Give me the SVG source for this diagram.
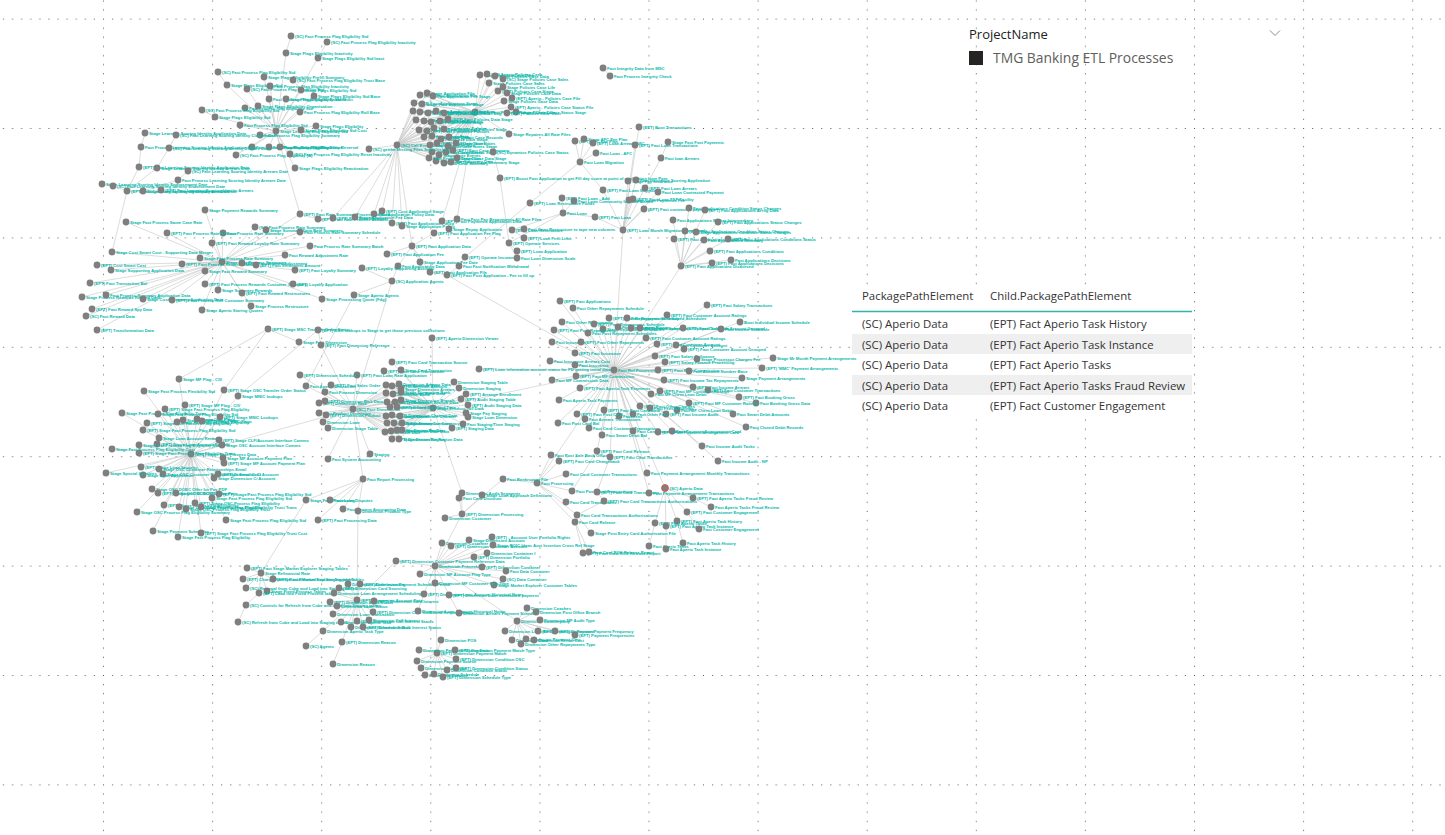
<svg xmlns="http://www.w3.org/2000/svg" width="1445" height="835" viewBox="0 0 1445 835">
<style>
.e path{fill:none;stroke:#cdcdcd;stroke-width:.7}
.n circle{fill:#7f7f7f}
.n text{font-family:"Liberation Sans",Arial,sans-serif;font-size:4.2px;font-weight:bold;fill:#01b8aa}
.ui{font-family:"Open Sans","Noto Sans",sans-serif}
.th{font-size:11.4px;fill:#333}
.td{font-size:11.4px;fill:#333}
</style>
<defs>
<pattern id="grid" x="-6.1" y="18.6" width="109.1" height="109.4" patternUnits="userSpaceOnUse">
<path d="M0 0.5H109.1" stroke="#555" stroke-width="1" stroke-dasharray="1 8.0917"/>
<path d="M0.5 0V109.4" stroke="#555" stroke-width="1" stroke-dasharray="1 8.1167"/>
</pattern>
</defs>
<rect width="1445" height="835" fill="#fff"/>
<rect width="1445" height="835" fill="url(#grid)"/>

<g id="slicer" class="ui">
<text x="969" y="39" font-size="13" fill="#222">ProjectName</text>
<path d="M1270 30.5L1275 35.5L1280 30.5" fill="none" stroke="#8a8a8a" stroke-width="1"/>
<rect x="969" y="51" width="14" height="14" fill="#252423"/>
<text x="993" y="63" font-size="13.9" fill="#605e5c">TMG Banking ETL Processes</text>
</g>

<g id="table" class="ui">
<rect x="852" y="285" width="340" height="131" fill="#fff"/>
<rect x="852" y="334" width="340" height="20" fill="#efefef"/>
<rect x="852" y="375" width="340" height="20" fill="#efefef"/>
<text x="862" y="300" class="th">PackagePathElement</text>
<text x="990" y="300" class="th">Child.PackagePathElement</text>
<path d="M852 311.5H1192" stroke="#2fb5ad" stroke-width="1.6"/>
<text x="862" y="328" class="td">(SC) Aperio Data</text><text x="990" y="328" class="td">(EPT) Fact Aperio Task History</text>
<text x="862" y="348.5" class="td">(SC) Aperio Data</text><text x="990" y="348.5" class="td">(EPT) Fact Aperio Task Instance</text>
<text x="862" y="369" class="td">(SC) Aperio Data</text><text x="990" y="369" class="td">(EPT) Fact Aperio Tasks</text>
<text x="862" y="389.5" class="td">(SC) Aperio Data</text><text x="990" y="389.5" class="td">(EPT) Fact Aperio Tasks Fraud Review</text>
<text x="862" y="410" class="td">(SC) Aperio Data</text><text x="990" y="410" class="td">(EPT) Fact Customer Engagement</text>
</g>

<g id="connectors" class="e">
<path d="M291 36L286 53L276 131M327 42L318 58L276 131M218 72L227 85L276 131M264 77L276 131M293 80L301 90L276 131M247 89L276 131M270 86L276 131M269 99L276 131M245 108L276 131M258 106L276 131M286 99L276 131M314 96L276 131M300 112L276 131M202 110L215 117L276 131M240 125L276 131M316 126L276 131M301 130L276 131M260 135L276 131M252 147L276 131M269 147L276 131M280 147L276 131M236 155L276 131M290 154L276 131M295 168L276 131M276 131L300 214"/>
<path d="M145 133L141 147L139 167L127 191M176 135L169 148L157 168L127 191M188 171L178 180L143 191M102 184L113 186L127 191M143 191L127 191M161 190L143 191M127 191L112 252"/>
<path d="M222 262L205 210M222 262L300 214M222 262L255 227M222 262L266 230M222 262L223 233M222 262L212 243M222 262L126 222M222 262L112 252M222 262L167 233M222 262L97 265M222 262L111 270M222 262L90 283M222 262L82 297M222 262L106 295M222 262L92 309M222 262L86 316M222 262L97 330M222 262L143 299M222 262L172 300M222 262L182 264M222 262L205 271M222 262L205 284M222 262L218 290M222 262L202 310M222 262L242 263M222 262L256 265M222 262L285 255M222 262L295 270M222 262L293 284M222 262L242 293M222 262L251 306M222 262L322 299M222 262L200 258M222 262L300 232M222 262L310 246M300 214L318 219L333 218"/>
<path d="M397 145L420 95L475 112M397 145L427 93L475 112M397 145L433 96L475 112M397 145L414 103L475 112M397 145L422 104L475 112M397 145L413 111L475 112M397 145L420 112L475 112M397 145L428 113L475 112M397 145L436 111L475 112M397 145L444 113L475 112M397 145L416 120L475 112M397 145L424 121L475 112M397 145L431 122L475 112M397 145L440 121L475 112M397 145L448 119L475 112M397 145L419 130L475 112M397 145L427 131L475 112M397 145L434 128L475 112M397 145L444 129L475 112M397 145L424 137L475 112M397 145L432 136L475 112M397 145L441 139L475 112M397 145L449 137L475 112M397 145L430 145L475 112M397 145L437 143L475 112M397 145L448 146L475 112M397 145L456 143L475 112M397 145L432 152L475 112M397 145L439 155L475 112M397 145L446 152L475 112M397 145L453 150L475 112M397 145L436 161L475 112M397 145L444 163L475 112M397 145L451 162L475 112M397 145L429 158L475 112M397 145L457 158L475 112"/>
<path d="M475 112L480 75M475 112L487 74M475 112L495 76M475 112L489 83M475 112L503 79M475 112L503 87M475 112L498 91M475 112L507 93M475 112L512 98M475 112L504 101M475 112L511 107M475 112L516 112M475 112L507 113M475 112L509 134M475 112L493 152M397 145L369 149"/>
<path d="M397 145L333 218M397 145L382 211M397 145L374 214M397 145L355 217M397 145L392 223M397 145L402 226M397 145L412 246M475 112L442 221M475 112L457 219M457 219L449 229M442 221L434 233L412 246M412 246L387 254M412 246L420 262M412 246L398 266M412 246L430 272L447 275L459 266L465 257L530 203L580 162M392 281L398 266M392 281L362 268M392 281L354 295M392 281L353 409M354 295L306 386M447 275L614 370"/>
<path d="M493 152L500 178L509 243M580 162L575 141M580 162L584 139M580 162L593 143M580 162L596 153M580 162L603 190L623 230M639 127L623 230M635 145L623 230M668 142L661 158L645 188L623 230M628 181L623 230M636 180L623 230M658 192L623 230M644 209L623 230M629 200L623 230M633 199L623 230M595 217L623 230M563 213L595 217M562 198L563 213M574 201L563 213M563 213L512 230M563 213L509 243M524 229L512 230M524 238L512 230M517 251L509 243M517 258L509 243M623 230L614 370M603 68L610 76"/>
<path d="M681 266L689 208M681 266L705 210M681 266L673 220M681 266L718 222M681 266L685 231M681 266L696 232M681 266L674 239M681 266L704 240M681 266L728 239M681 266L710 251M681 266L712 263M681 266L731 260M681 266L614 370"/>
<path d="M614 370L560 301M614 370L573 308M614 370L609 318M614 370L627 318M614 370L707 305M614 370L667 315M614 370L562 322M614 370L594 324M614 370L603 329M614 370L618 327M614 370L631 328M614 370L640 328M614 370L554 330M614 370L588 333M614 370L683 328M614 370L740 322M614 370L721 329M614 370L646 338M614 370L552 342M614 370L581 342M614 370L657 344M614 370L676 345M614 370L684 349M614 370L575 353M614 370L550 361M614 370L575 365M614 370L655 356M614 370L697 359M614 370L665 362M614 370L658 370M614 370L689 371M614 370L552 380M614 370L576 376M614 370L664 380M614 370L693 387M614 370L708 390M614 370L651 394M614 370L660 391M614 370L580 388M614 370L559 400M614 370L742 378M614 370L762 368M614 370L773 358M614 370L739 397M614 370L756 403M614 370L733 414M614 370L746 427M614 370L689 403M614 370L677 410M614 370L666 414M614 370L640 406M614 370L650 408M614 370L633 414M614 370L619 416M614 370L604 410M614 370L577 414M614 370L585 419M614 370L558 423M614 370L589 428M614 370L602 435M614 370L633 431M614 370L658 432M614 370L672 431M614 370L702 446M614 370L718 461M614 370L479 369M614 370L433 408"/>
<path d="M353 409L386 385L433 408M353 409L392 386L433 408M353 409L399 384L433 408M353 409L401 389L433 408M353 409L386 393L433 408M353 409L393 394L433 408M353 409L401 392L433 408M353 409L387 402L433 408M353 409L395 402L433 408M353 409L401 400L433 408M353 409L390 407L433 408M353 409L397 407L433 408M353 409L386 416L433 408M353 409L392 415L433 408M353 409L400 416L433 408M353 409L387 423L433 408M353 409L394 423L433 408M353 409L402 423L433 408M353 409L385 432L433 408M353 409L391 431L433 408M353 409L397 430L433 408M353 409L402 430L433 408M353 409L392 439L433 408M353 409L399 439L433 408"/>
<path d="M433 408L392 362M433 408L384 371M433 408L401 370M353 409L357 375M353 409L306 386M353 409L331 385M353 409L325 392M353 409L319 403M353 409L325 401M353 409L319 413M353 409L326 415M353 409L323 422M353 409L328 428M353 409L300 375M433 408L454 382M433 408L459 388M433 408L466 394M433 408L461 399M433 408L468 405M433 408L466 413M433 408L468 417M433 408L463 424M433 408L452 428M353 409L370 454M353 409L328 459M353 409L363 479M353 409L191 454M432 338L433 408"/>
<path d="M191 454L179 379M191 454L144 391M191 454L224 390M191 454L238 396M191 454L185 405M191 454L122 413M191 454L165 409M191 454L158 414M191 454L147 423M191 454L143 430M191 454L177 422M191 454L183 420M191 454L197 419M191 454L202 421M191 454L220 417M191 454L159 438M191 454L157 444M191 454L139 445M191 454L139 453M191 454L219 440M191 454L222 445M191 454L223 458M191 454L224 463M191 454L141 467M191 454L159 469M191 454L163 474M191 454L143 475M191 454L214 478M191 454L218 474M191 454L152 489M191 454L158 493M191 454L176 493M191 454L219 494M191 454L212 498M191 454L164 505M191 454L179 507M191 454L186 509M191 454L195 503M191 454L201 507M191 454L137 512M191 454L226 520M191 454L153 531M191 454L201 533M191 454L178 537M191 454L112 449M191 454L106 473"/>
<path d="M224 390L268 329L299 342M238 396L318 330L321 345L353 409M179 379L268 329"/>
<path d="M363 479L306 500M363 479L330 500M363 479L343 509M363 479L358 511M363 479L318 520M358 511L357 600M261 573L306 500"/>
<path d="M261 573L247 568M261 573L243 579M261 573L273 579M261 573L246 588M261 573L267 591M261 573L259 593L246 605L238 622"/>
<path d="M357 600L348 584M357 600L360 584M357 600L339 588M357 600L334 593M357 600L330 602M357 600L337 606M357 600L374 601M357 600L333 614M357 600L373 612M357 600L341 622M357 600L357 621M357 600L369 620M357 600L351 627M357 600L363 627M357 600L323 631L306 646M357 600L342 642L333 664M357 600L396 561L435 566"/>
<path d="M433 408L462 493L462 514M459 498L462 514M482 495L462 514M445 518L462 514M462 514L435 566M492 537L435 566M462 514L503 479"/>
<path d="M435 566L442 543M435 566L451 546M435 566L469 540M435 566L487 553M435 566L493 545M435 566L474 557M435 566L482 567M435 566L506 571M435 566L494 585M435 566L503 579M435 566L420 574M435 566L435 583M435 566L424 594L418 611M435 566L449 595L459 613M435 566L437 653M435 566L517 621"/>
<path d="M437 653L441 640M437 653L419 650M437 653L455 650M437 653L417 661M437 653L456 659M437 653L421 668M437 653L447 670M437 653L456 668M437 653L425 675M437 653L434 674M437 653L443 677"/>
<path d="M517 621L527 608M517 621L536 612M517 621L540 620M517 621L505 631M517 621L538 631M517 621L555 631M517 621L575 635M517 621L512 640M517 621L526 639M517 621L534 640M517 621L521 644"/>
<path d="M537 483L503 479M537 483L551 455M537 483L559 461M537 483L566 474M537 483L572 491M537 483L566 502M537 483L577 515M537 483L575 522M537 483L614 370M614 370L597 451L572 491M614 370L610 457L597 492L604 501L577 515L591 533M575 522L583 553M575 522L589 552"/>
<path d="M665 488L614 370M647 473L614 370M649 493L614 370M665 488L693 498L711 507M665 488L687 512L699 529M665 488L677 521L683 543M665 488L655 523L649 546M665 488L666 526L666 549"/>
</g>

<g id="nodes">
<g id="a0" class="n" transform="translate(276 131)"><circle r="3.4"/><text x="4" y="1.5">Stage Learning Flag Eligibility Std</text></g>
<g id="a1" class="n" transform="translate(291 36)"><circle r="3.4"/><text x="4" y="1.5">(SC) Fact Process Flag Eligibility Std</text></g>
<g id="a2" class="n" transform="translate(327 42)"><circle r="3.4"/><text x="4" y="1.5">(SC) Fact Process Flag Eligibility Inactivity</text></g>
<g id="a3" class="n" transform="translate(286 53)"><circle r="3.4"/><text x="4" y="1.5">Stage Flags Eligibility Inactivity</text></g>
<g id="a4" class="n" transform="translate(318 58)"><circle r="3.4"/><text x="4" y="1.5">Stage Flags Eligibility Std Inact</text></g>
<g id="a5" class="n" transform="translate(218 72)"><circle r="3.4"/><text x="4" y="1.5">(SC) Fact Process Flag Eligibility Std</text></g>
<g id="a6" class="n" transform="translate(227 85)"><circle r="3.4"/><text x="4" y="1.5">Stage Flags Eligibility Std</text></g>
<g id="a7" class="n" transform="translate(264 77)"><circle r="3.4"/><text x="4" y="1.5">Stage Flags Eligibility Prefill Summary</text></g>
<g id="a8" class="n" transform="translate(293 80)"><circle r="3.4"/><text x="4" y="1.5">(SC) Fact Process Flag Eligibility Trust Base</text></g>
<g id="a9" class="n" transform="translate(247 89)"><circle r="3.4"/><text x="4" y="1.5">(SC) Fact Process Flag Eligibility Std</text></g>
<g id="a10" class="n" transform="translate(270 86)"><circle r="3.4"/><text x="4" y="1.5">Fact Process Flag Eligibility Inactivity</text></g>
<g id="a11" class="n" transform="translate(301 90)"><circle r="3.4"/><text x="4" y="1.5">Stage Flags Eligibility Std</text></g>
<g id="a12" class="n" transform="translate(269 99)"><circle r="3.4"/><text x="4" y="1.5">Fact Process Flag Eligibility Enabled</text></g>
<g id="a13" class="n" transform="translate(245 108)"><circle r="3.4"/><text x="4" y="1.5">Fact Process Flag Eligibility Std</text></g>
<g id="a14" class="n" transform="translate(258 106)"><circle r="3.4"/><text x="4" y="1.5">Stage Flags Eligibility Organisation</text></g>
<g id="a15" class="n" transform="translate(286 99)"><circle r="3.4"/><text x="4" y="1.5">Stage Flags Eligibility Std Trust</text></g>
<g id="a16" class="n" transform="translate(314 96)"><circle r="3.4"/><text x="4" y="1.5">Stage Flags Eligibility Std Base</text></g>
<g id="a17" class="n" transform="translate(300 112)"><circle r="3.4"/><text x="4" y="1.5">Fact Process Flag Eligibility Roll Base</text></g>
<g id="a18" class="n" transform="translate(202 110)"><circle r="3.4"/><text x="4" y="1.5">(SC) Fact Process Flag Eligibility Std</text></g>
<g id="a19" class="n" transform="translate(215 117)"><circle r="3.4"/><text x="4" y="1.5">Stage Flags Eligibility Std</text></g>
<g id="a20" class="n" transform="translate(240 125)"><circle r="3.4"/><text x="4" y="1.5">Fact Process Flag Eligibility Std</text></g>
<g id="a21" class="n" transform="translate(316 126)"><circle r="3.4"/><text x="4" y="1.5">Stage Flags Eligibility</text></g>
<g id="a22" class="n" transform="translate(301 130)"><circle r="3.4"/><text x="4" y="1.5">Stage Flags Eligibility Std Cust</text></g>
<g id="a23" class="n" transform="translate(260 135)"><circle r="3.4"/><text x="4" y="1.5">Fact Process Flag Eligibility Summary</text></g>
<g id="a24" class="n" transform="translate(252 147)"><circle r="3.4"/><text x="4" y="1.5">Fact Process Flag Eligibility (A) Base</text></g>
<g id="a25" class="n" transform="translate(269 147)"><circle r="3.4"/><text x="4" y="1.5">Fact Process Flag Eligibility Status</text></g>
<g id="a26" class="n" transform="translate(280 147)"><circle r="3.4"/><text x="4" y="1.5">Fact Process Flag Eligibility Reversal</text></g>
<g id="a27" class="n" transform="translate(236 155)"><circle r="3.4"/><text x="4" y="1.5">(SC) Fact Process Flag Eligibility (A)</text></g>
<g id="a28" class="n" transform="translate(290 154)"><circle r="3.4"/><text x="4" y="1.5">(SC) Fact Process Flag Eligibility Reset Inactivity</text></g>
<g id="a29" class="n" transform="translate(295 168)"><circle r="3.4"/><text x="4" y="1.5">Stage Flags Eligibility Reactivation</text></g>

<g id="b1" class="n" transform="translate(145 133)"><circle r="3.4"/><text x="4" y="1.5">Stage Learning Scoring Identity Application Date</text></g>
<g id="b2" class="n" transform="translate(176 135)"><circle r="3.4"/><text x="4" y="1.5">(SC) Fact Learning Scoring Identity Closure Date</text></g>
<g id="b3" class="n" transform="translate(141 147)"><circle r="3.4"/><text x="4" y="1.5">Fact Process Learning Scoring Identity Application Date</text></g>
<g id="b4" class="n" transform="translate(169 148)"><circle r="3.4"/><text x="4" y="1.5">(SC) Fact Learning Scoring Identity Closure Date</text></g>
<g id="b5" class="n" transform="translate(139 167)"><circle r="3.4"/><text x="4" y="1.5">(EPT) Fact Learning Scoring Identity Application Date</text></g>
<g id="b6" class="n" transform="translate(157 168)"><circle r="3.4"/><text x="4" y="1.5">Stage Learning Scoring Identity Arrears Date</text></g>
<g id="b7" class="n" transform="translate(188 171)"><circle r="3.4"/><text x="4" y="1.5">(SC) Fact Learning Scoring Identity Arrears Date</text></g>
<g id="b8" class="n" transform="translate(178 180)"><circle r="3.4"/><text x="4" y="1.5">Fact Process Learning Scoring Identity Arrears Date</text></g>
<g id="b9" class="n" transform="translate(102 184)"><circle r="3.4"/><text x="4" y="1.5">Stage Learning Scoring Identity Endorsement Date</text></g>
<g id="b10" class="n" transform="translate(113 186)"><circle r="3.4"/><text x="4" y="1.5">(SC) Fact Learning Scoring Identity Endorsement Date</text></g>
<g id="b11" class="n" transform="translate(127 191)"><circle r="3.4"/><text x="4" y="1.5">(EPT) Fact Learning Scoring Identity Arrears Date</text></g>
<g id="b12" class="n" transform="translate(143 191)"><circle r="3.4"/><text x="4" y="1.5">Stage Learning Scoring Identity Arrears Date</text></g>
<g id="b13" class="n" transform="translate(161 190)"><circle r="3.4"/><text x="4" y="1.5">(EPT) Fact Learning Scoring Identity Arrears</text></g>

<g id="c0" class="n" transform="translate(222 262)"><circle r="3.4"/><text x="4" y="1.5">Stage Fact Process Summary</text></g>
<g id="c1" class="n" transform="translate(205 210)"><circle r="3.4"/><text x="4" y="1.5">Stage Payment Rewards Summary</text></g>
<g id="c2" class="n" transform="translate(300 214)"><circle r="3.4"/><text x="4" y="1.5">(EPT) Fact Rate Summary Process Account</text></g>
<g id="c3" class="n" transform="translate(255 227)"><circle r="3.4"/><text x="4" y="1.5">(SC) Fact Process Rate Summary</text></g>
<g id="c4" class="n" transform="translate(266 230)"><circle r="3.4"/><text x="4" y="1.5">Stage Summary Data Rate Summary</text></g>
<g id="c5" class="n" transform="translate(223 233)"><circle r="3.4"/><text x="4" y="1.5">Fact Process Rate Summary</text></g>
<g id="c6" class="n" transform="translate(212 243)"><circle r="3.4"/><text x="4" y="1.5">(EPT) Fact Reward Loyalty Rate Summary</text></g>
<g id="c7" class="n" transform="translate(126 222)"><circle r="3.4"/><text x="4" y="1.5">Stage Fact Process Same Case Rate</text></g>
<g id="c8" class="n" transform="translate(112 252)"><circle r="3.4"/><text x="4" y="1.5">Stage Cust Smart Cost - Supporting Data Merger</text></g>
<g id="c9" class="n" transform="translate(167 233)"><circle r="3.4"/><text x="4" y="1.5">(EPT) Fact Process Rate Balance</text></g>
<g id="c10" class="n" transform="translate(97 265)"><circle r="3.4"/><text x="4" y="1.5">(EPT) Cust Smart Cost</text></g>
<g id="c11" class="n" transform="translate(111 270)"><circle r="3.4"/><text x="4" y="1.5">Stage Supporting Application Data</text></g>
<g id="c12" class="n" transform="translate(90 283)"><circle r="3.4"/><text x="4" y="1.5">(EPT) Fact Transaction Bal</text></g>
<g id="c13" class="n" transform="translate(82 297)"><circle r="3.4"/><text x="4" y="1.5">Stage Process Rewards Reward Data</text></g>
<g id="c14" class="n" transform="translate(106 295)"><circle r="3.4"/><text x="4" y="1.5">Fact Process Summary Application Data</text></g>
<g id="c15" class="n" transform="translate(92 309)"><circle r="3.4"/><text x="4" y="1.5">(EPT) Fact Reward Spy Data</text></g>
<g id="c16" class="n" transform="translate(86 316)"><circle r="3.4"/><text x="4" y="1.5">(SC) Fact Reward Data</text></g>
<g id="c17" class="n" transform="translate(97 330)"><circle r="3.4"/><text x="4" y="1.5">(EPT) Transformation Data</text></g>
<g id="c18" class="n" transform="translate(143 299)"><circle r="3.4"/><text x="4" y="1.5">Stage Cust Summary Application Data</text></g>
<g id="c19" class="n" transform="translate(172 300)"><circle r="3.4"/><text x="4" y="1.5">(EPT) Fact Process Roll Customer Summary</text></g>
<g id="c20" class="n" transform="translate(182 264)"><circle r="3.4"/><text x="4" y="1.5">(EPT) Fact Process Rewards Rollup</text></g>
<g id="c21" class="n" transform="translate(205 271)"><circle r="3.4"/><text x="4" y="1.5">Stage Fact Reward Summary</text></g>
<g id="c22" class="n" transform="translate(205 284)"><circle r="3.4"/><text x="4" y="1.5">(EPT) Fact Process Rewards Customer Summary</text></g>
<g id="c23" class="n" transform="translate(218 290)"><circle r="3.4"/><text x="4" y="1.5">Stage Summary Rewards</text></g>
<g id="c24" class="n" transform="translate(202 310)"><circle r="3.4"/><text x="4" y="1.5">Stage Aperio Staring Quotes</text></g>
<g id="c25" class="n" transform="translate(242 263)"><circle r="3.4"/><text x="4" y="1.5">(EPT) Fact Reward Adjustment</text></g>
<g id="c26" class="n" transform="translate(256 265)"><circle r="3.4"/><text x="4" y="1.5">(EPT) Fact Settlement Amount</text></g>
<g id="c27" class="n" transform="translate(285 255)"><circle r="3.4"/><text x="4" y="1.5">Fact Reward Adjustment Rate</text></g>
<g id="c28" class="n" transform="translate(295 270)"><circle r="3.4"/><text x="4" y="1.5">(EPT) Fact Loyalty Summary</text></g>
<g id="c29" class="n" transform="translate(293 284)"><circle r="3.4"/><text x="4" y="1.5">(EPT) Loyalty Application</text></g>
<g id="c30" class="n" transform="translate(242 293)"><circle r="3.4"/><text x="4" y="1.5">(EPT) Fact Reward Restructures</text></g>
<g id="c31" class="n" transform="translate(251 306)"><circle r="3.4"/><text x="4" y="1.5">Stage Process Restructure</text></g>
<g id="c32" class="n" transform="translate(322 299)"><circle r="3.4"/><text x="4" y="1.5">Stage Processing Quote (Fdg)</text></g>
<g id="c33" class="n" transform="translate(318 219)"><circle r="3.4"/><text x="4" y="1.5">(EPT) Fact Rate Process Account</text></g>
<g id="c34" class="n" transform="translate(333 218)"><circle r="3.4"/><text x="4" y="1.5">(EPT) Fact Rate Manager</text></g>
<g id="c35" class="n" transform="translate(200 258)"><circle r="3.4"/><text x="4" y="1.5">Stage Fact Process Rate Summary</text></g>
<g id="c36" class="n" transform="translate(300 232)"><circle r="3.4"/><text x="4" y="1.5">Fact Process Rate Summary Schedule</text></g>
<g id="c37" class="n" transform="translate(310 246)"><circle r="3.4"/><text x="4" y="1.5">Fact Process Rate Summary Batch</text></g>

<g id="d0" class="n" transform="translate(397 145)"><circle r="3.4"/><text x="4" y="1.5">(SC) Call Event Data</text></g>
<g id="d00" class="n" transform="translate(475 112)"><circle r="3.4"/><text x="4" y="1.5">(EPT) Fact Process Policies Case Data</text></g>
<g id="d1" class="n" transform="translate(420 95)"><circle r="3.4"/><text x="4" y="1.5">(EPT) Fact Application File</text></g>
<g id="d2" class="n" transform="translate(427 93)"><circle r="3.4"/><text x="4" y="1.5">Stage Application File</text></g>
<g id="d3" class="n" transform="translate(433 96)"><circle r="3.4"/><text x="4" y="1.5">Fact Application File Stage</text></g>
<g id="d4" class="n" transform="translate(414 103)"><circle r="3.4"/><text x="4" y="1.5">(EPT) Fact Applications Stage</text></g>
<g id="d5" class="n" transform="translate(422 104)"><circle r="3.4"/><text x="4" y="1.5">Stage Fact Application Stage</text></g>
<g id="d6" class="n" transform="translate(413 111)"><circle r="3.4"/><text x="4" y="1.5">Fact Application Logs</text></g>
<g id="d7" class="n" transform="translate(420 112)"><circle r="3.4"/><text x="4" y="1.5">(EPT) Fact Application Log Stage</text></g>
<g id="d8" class="n" transform="translate(428 113)"><circle r="3.4"/><text x="4" y="1.5">Stage Application Logs</text></g>
<g id="d9" class="n" transform="translate(436 111)"><circle r="3.4"/><text x="4" y="1.5">Fact Application Policy Log</text></g>
<g id="d10" class="n" transform="translate(444 113)"><circle r="3.4"/><text x="4" y="1.5">(EPT) Fact Application Log</text></g>
<g id="d11" class="n" transform="translate(416 120)"><circle r="3.4"/><text x="4" y="1.5">Stage Fact Policies Data</text></g>
<g id="d12" class="n" transform="translate(424 121)"><circle r="3.4"/><text x="4" y="1.5">(EPT) Fact Policies Data</text></g>
<g id="d13" class="n" transform="translate(431 122)"><circle r="3.4"/><text x="4" y="1.5">Fact Policies Data Stage</text></g>
<g id="d14" class="n" transform="translate(440 121)"><circle r="3.4"/><text x="4" y="1.5">Stage Policies Data</text></g>
<g id="d15" class="n" transform="translate(448 119)"><circle r="3.4"/><text x="4" y="1.5">(EPT) Fact Policies Data Stage</text></g>
<g id="d16" class="n" transform="translate(419 130)"><circle r="3.4"/><text x="4" y="1.5">Fact Customer Policies Data</text></g>
<g id="d17" class="n" transform="translate(427 131)"><circle r="3.4"/><text x="4" y="1.5">(EPT) Fact Customer Policies</text></g>
<g id="d18" class="n" transform="translate(434 128)"><circle r="3.4"/><text x="4" y="1.5">Stage Customer Policies</text></g>
<g id="d19" class="n" transform="translate(444 129)"><circle r="3.4"/><text x="4" y="1.5">Fact Customer Policies Stage</text></g>
<g id="d20" class="n" transform="translate(424 137)"><circle r="3.4"/><text x="4" y="1.5">(EPT) Fact Case Data</text></g>
<g id="d21" class="n" transform="translate(432 136)"><circle r="3.4"/><text x="4" y="1.5">Stage Case Data</text></g>
<g id="d22" class="n" transform="translate(441 139)"><circle r="3.4"/><text x="4" y="1.5">Fact Case Data Stage</text></g>
<g id="d23" class="n" transform="translate(449 137)"><circle r="3.4"/><text x="4" y="1.5">(EPT) Fact Case Records</text></g>
<g id="d24" class="n" transform="translate(430 145)"><circle r="3.4"/><text x="4" y="1.5">Stage Case Records</text></g>
<g id="d25" class="n" transform="translate(437 143)"><circle r="3.4"/><text x="4" y="1.5">(EPT) Fact Case Notes</text></g>
<g id="d26" class="n" transform="translate(448 146)"><circle r="3.4"/><text x="4" y="1.5">Fact Case Notes Stage</text></g>
<g id="d27" class="n" transform="translate(456 143)"><circle r="3.4"/><text x="4" y="1.5">Stage Case Notes</text></g>
<g id="d28" class="n" transform="translate(432 152)"><circle r="3.4"/><text x="4" y="1.5">(EPT) Fact Case Events</text></g>
<g id="d29" class="n" transform="translate(439 155)"><circle r="3.4"/><text x="4" y="1.5">Stage Case Events</text></g>
<g id="d30" class="n" transform="translate(446 152)"><circle r="3.4"/><text x="4" y="1.5">Fact Case Events Stage</text></g>
<g id="d31" class="n" transform="translate(453 150)"><circle r="3.4"/><text x="4" y="1.5">(EPT) Fact Case Summary</text></g>
<g id="d32" class="n" transform="translate(436 161)"><circle r="3.4"/><text x="4" y="1.5">Stage Case Summary Data</text></g>
<g id="d33" class="n" transform="translate(444 163)"><circle r="3.4"/><text x="4" y="1.5">Fact Case Summary</text></g>
<g id="d34" class="n" transform="translate(451 162)"><circle r="3.4"/><text x="4" y="1.5">(EPT) Fact Case Summary Stage</text></g>
<g id="d35" class="n" transform="translate(429 158)"><circle r="3.4"/><text x="4" y="1.5">Fact Process Case Data</text></g>
<g id="d36" class="n" transform="translate(457 158)"><circle r="3.4"/><text x="4" y="1.5">Stage Case Data Stage</text></g>
<g id="d40" class="n" transform="translate(480 75)"><circle r="3.4"/><text x="4" y="1.5">Stage Policies Case Data</text></g>
<g id="d41" class="n" transform="translate(487 74)"><circle r="3.4"/><text x="4" y="1.5">(SC) Aperio Policies Case</text></g>
<g id="d42" class="n" transform="translate(495 76)"><circle r="3.4"/><text x="4" y="1.5">Stage Policies Case Data</text></g>
<g id="d43" class="n" transform="translate(489 83)"><circle r="3.4"/><text x="4" y="1.5">Stage Policies Case Sales</text></g>
<g id="d44" class="n" transform="translate(503 79)"><circle r="3.4"/><text x="4" y="1.5">(SC) Stage Policies Case Sales</text></g>
<g id="d45" class="n" transform="translate(503 87)"><circle r="3.4"/><text x="4" y="1.5">Stage Policies Case Life</text></g>
<g id="d46" class="n" transform="translate(498 91)"><circle r="3.4"/><text x="4" y="1.5">(EPT) Policies Case Stage</text></g>
<g id="d47" class="n" transform="translate(507 93)"><circle r="3.4"/><text x="4" y="1.5">Stage Policies Case Data</text></g>
<g id="d48" class="n" transform="translate(512 98)"><circle r="3.4"/><text x="4" y="1.5">(EPT) Aperio - Policies Case File</text></g>
<g id="d49" class="n" transform="translate(504 101)"><circle r="3.4"/><text x="4" y="1.5">Stage Policies Case Data</text></g>
<g id="d50" class="n" transform="translate(511 107)"><circle r="3.4"/><text x="4" y="1.5">(EPT) Aperio - Policies Case Status File</text></g>
<g id="d51" class="n" transform="translate(516 112)"><circle r="3.4"/><text x="4" y="1.5">Stage Policies Case Status Stage</text></g>
<g id="d52" class="n" transform="translate(507 113)"><circle r="3.4"/><text x="4" y="1.5">(EPT) Policies Case Cost</text></g>
<g id="d53" class="n" transform="translate(509 134)"><circle r="3.4"/><text x="4" y="1.5">Stage Repaires All Rate Files</text></g>
<g id="d54" class="n" transform="translate(493 152)"><circle r="3.4"/><text x="4" y="1.5">(SC) Dynamics Policies Case Status</text></g>
<g id="d55" class="n" transform="translate(369 149)"><circle r="3.4"/><text x="4" y="1.5">(SC) getthe Missing Files Submissions</text></g>

<g id="t1" class="n" transform="translate(382 211)"><circle r="3.4"/><text x="4" y="1.5">(EPT) Cost Application Stage</text></g>
<g id="t2" class="n" transform="translate(374 214)"><circle r="3.4"/><text x="4" y="1.5">Fact Application Policy Data</text></g>
<g id="t3" class="n" transform="translate(355 217)"><circle r="3.4"/><text x="4" y="1.5">Stage Application Fee Data</text></g>
<g id="t4" class="n" transform="translate(392 223)"><circle r="3.4"/><text x="4" y="1.5">(EPT) Fact Application Policy</text></g>
<g id="t5" class="n" transform="translate(402 226)"><circle r="3.4"/><text x="4" y="1.5">Stage Application Policy</text></g>
<g id="t6" class="n" transform="translate(442 221)"><circle r="3.4"/><text x="4" y="1.5">(EPT) Fast Payments Application Data</text></g>
<g id="t7" class="n" transform="translate(457 219)"><circle r="3.4"/><text x="4" y="1.5">Fact Fast Pay Repayments All Rate Files</text></g>
<g id="t8" class="n" transform="translate(449 229)"><circle r="3.4"/><text x="4" y="1.5">Stage Repay Application</text></g>
<g id="t9" class="n" transform="translate(434 233)"><circle r="3.4"/><text x="4" y="1.5">(EPT) Fact Application Fee Flag</text></g>
<g id="t10" class="n" transform="translate(412 246)"><circle r="3.4"/><text x="4" y="1.5">(EPT) Fact Application Data</text></g>
<g id="t11" class="n" transform="translate(387 254)"><circle r="3.4"/><text x="4" y="1.5">(EPT) Fact Application Fee</text></g>
<g id="t12" class="n" transform="translate(420 262)"><circle r="3.4"/><text x="4" y="1.5">Stage Application Fee Date</text></g>
<g id="t13" class="n" transform="translate(398 266)"><circle r="3.4"/><text x="4" y="1.5">Fact Application Data</text></g>
<g id="t14" class="n" transform="translate(430 272)"><circle r="3.4"/><text x="4" y="1.5">(EPT) Fact Application File</text></g>
<g id="t15" class="n" transform="translate(447 275)"><circle r="3.4"/><text x="4" y="1.5">(EPT) Fast Post Application - Fee to fill up</text></g>
<g id="t16" class="n" transform="translate(459 266)"><circle r="3.4"/><text x="4" y="1.5">Fact Fast Notification Withdrawal</text></g>
<g id="t17" class="n" transform="translate(465 257)"><circle r="3.4"/><text x="4" y="1.5">(EPT) Operate Insurance</text></g>
<g id="t18" class="n" transform="translate(392 281)"><circle r="3.4"/><text x="4" y="1.5">(SC) Application Agents</text></g>
<g id="t19" class="n" transform="translate(362 268)"><circle r="3.4"/><text x="4" y="1.5">(EPT) Loyalty Supporting Account</text></g>
<g id="t20" class="n" transform="translate(354 295)"><circle r="3.4"/><text x="4" y="1.5">Stage Aperio Agents</text></g>

<g id="e0" class="n" transform="translate(580 162)"><circle r="3.4"/><text x="4" y="1.5">Fact Loan Migration</text></g>
<g id="e1" class="n" transform="translate(575 141)"><circle r="3.4"/><text x="4" y="1.5">(EPT) AFC Fee Plan</text></g>
<g id="e2" class="n" transform="translate(584 139)"><circle r="3.4"/><text x="4" y="1.5">Stage AFC Fee Plan</text></g>
<g id="e3" class="n" transform="translate(593 143)"><circle r="3.4"/><text x="4" y="1.5">(EPT) Loan Arrears AFC</text></g>
<g id="e4" class="n" transform="translate(596 153)"><circle r="3.4"/><text x="4" y="1.5">Fact Loan - AFC</text></g>
<g id="e5" class="n" transform="translate(639 127)"><circle r="3.4"/><text x="4" y="1.5">(EPT) Boot Transactions</text></g>
<g id="e6" class="n" transform="translate(635 145)"><circle r="3.4"/><text x="4" y="1.5">(EPT) Fact Loan Transactions</text></g>
<g id="e7" class="n" transform="translate(668 142)"><circle r="3.4"/><text x="4" y="1.5">Stage Fast Fast Payments</text></g>
<g id="e8" class="n" transform="translate(661 158)"><circle r="3.4"/><text x="4" y="1.5">Fact loan Arrears</text></g>
<g id="e9" class="n" transform="translate(500 178)"><circle r="3.4"/><text x="4" y="1.5">(EPT) Boost Fast Application to get Fill day score at point of application from Ppm</text></g>
<g id="e10" class="n" transform="translate(628 181)"><circle r="3.4"/><text x="4" y="1.5">Stage Pay Insurance</text></g>
<g id="e11" class="n" transform="translate(636 180)"><circle r="3.4"/><text x="4" y="1.5">Fact Insurance Scoring Application</text></g>
<g id="e12" class="n" transform="translate(603 190)"><circle r="3.4"/><text x="4" y="1.5">(EPT) Fact Loan Migration</text></g>
<g id="e13" class="n" transform="translate(645 188)"><circle r="3.4"/><text x="4" y="1.5">(EPT) Fact Loan Arrears</text></g>
<g id="e14" class="n" transform="translate(658 192)"><circle r="3.4"/><text x="4" y="1.5">Fact Loan Contracted Payment</text></g>
<g id="e15" class="n" transform="translate(562 198)"><circle r="3.4"/><text x="4" y="1.5">(EPT) Fact Loan - Add</text></g>
<g id="e16" class="n" transform="translate(574 201)"><circle r="3.4"/><text x="4" y="1.5">Fact Loan Community for Rate Issues</text></g>
<g id="e17" class="n" transform="translate(629 200)"><circle r="3.4"/><text x="4" y="1.5">Stage Loan Payments Fee</text></g>
<g id="e18" class="n" transform="translate(633 199)"><circle r="3.4"/><text x="4" y="1.5">(EPT) Fact Loan FSP Facility</text></g>
<g id="e19" class="n" transform="translate(530 203)"><circle r="3.4"/><text x="4" y="1.5">(EPT) Loan Restructure Funds</text></g>
<g id="e20" class="n" transform="translate(644 209)"><circle r="3.4"/><text x="4" y="1.5">(EPT) Fact contracted payments</text></g>
<g id="e21" class="n" transform="translate(563 213)"><circle r="3.4"/><text x="4" y="1.5">Fact Loan</text></g>
<g id="e22" class="n" transform="translate(595 217)"><circle r="3.4"/><text x="4" y="1.5">(EPT) Fact Loan</text></g>
<g id="e23" class="n" transform="translate(623 230)"><circle r="3.4"/><text x="4" y="1.5">(EPT) Loan Month Migration Core Funds</text></g>
<g id="e24" class="n" transform="translate(512 230)"><circle r="3.4"/><text x="4" y="1.5">(EPT) Loan Restructure</text></g>
<g id="e25" class="n" transform="translate(524 229)"><circle r="3.4"/><text x="4" y="1.5">Fact Loan Restructure to tape new columns</text></g>
<g id="e26" class="n" transform="translate(524 238)"><circle r="3.4"/><text x="4" y="1.5">(EPT) Loan First Limit</text></g>
<g id="e27" class="n" transform="translate(509 243)"><circle r="3.4"/><text x="4" y="1.5">(EPT) Operate Services</text></g>
<g id="e28" class="n" transform="translate(517 251)"><circle r="3.4"/><text x="4" y="1.5">(EPT) Loan Application</text></g>
<g id="e29" class="n" transform="translate(517 258)"><circle r="3.4"/><text x="4" y="1.5">Fact Loan Dimension Scale</text></g>
<g id="e30" class="n" transform="translate(603 68)"><circle r="3.4"/><text x="4" y="1.5">Fact Integrity Data from MSC</text></g>
<g id="e31" class="n" transform="translate(610 76)"><circle r="3.4"/><text x="4" y="1.5">Fact Process Integrity Check</text></g>
<g id="e40" class="n" transform="translate(681 266)"><circle r="3.4"/><text x="4" y="1.5">(EPT) Fact Applications Disbursed</text></g>
<g id="e41" class="n" transform="translate(689 208)"><circle r="3.4"/><text x="4" y="1.5">Fact Applications Condition Status Changes</text></g>
<g id="e42" class="n" transform="translate(705 210)"><circle r="3.4"/><text x="4" y="1.5">(EPT) Fact Applications Arrng Data</text></g>
<g id="e43" class="n" transform="translate(673 220)"><circle r="3.4"/><text x="4" y="1.5">Fact Applications Broker Intermediary</text></g>
<g id="e44" class="n" transform="translate(718 222)"><circle r="3.4"/><text x="4" y="1.5">(EPT) Fact Applications Status Changes</text></g>
<g id="e45" class="n" transform="translate(685 231)"><circle r="3.4"/><text x="4" y="1.5">(EPT) Fact Applications Condition Status Changes</text></g>
<g id="e46" class="n" transform="translate(696 232)"><circle r="3.4"/><text x="4" y="1.5">Stage Applications Condition Status Changes</text></g>
<g id="e47" class="n" transform="translate(674 239)"><circle r="3.4"/><text x="4" y="1.5">(EPT) Fact Applications Conditions</text></g>
<g id="e48" class="n" transform="translate(704 240)"><circle r="3.4"/><text x="4" y="1.5">Fact Applications Summary</text></g>
<g id="e49" class="n" transform="translate(728 239)"><circle r="3.4"/><text x="4" y="1.5">(EPT) Fact Applications Conditions Status</text></g>
<g id="e50" class="n" transform="translate(710 251)"><circle r="3.4"/><text x="4" y="1.5">(EPT) Fact Applications Conditions</text></g>
<g id="e51" class="n" transform="translate(712 263)"><circle r="3.4"/><text x="4" y="1.5">(EPT) Fact Applications Decisions</text></g>
<g id="e52" class="n" transform="translate(731 260)"><circle r="3.4"/><text x="4" y="1.5">Fact Applications Decisions</text></g>

<g id="f0" class="n" transform="translate(614 370)"><circle r="3.4"/><text x="4" y="1.5">Fact Ref Processing</text></g>
<g id="f1" class="n" transform="translate(560 301)"><circle r="3.4"/><text x="4" y="1.5">(EPT) Fact Applications</text></g>
<g id="f2" class="n" transform="translate(573 308)"><circle r="3.4"/><text x="4" y="1.5">Fact Other Repayments Schedule</text></g>
<g id="f3" class="n" transform="translate(609 318)"><circle r="3.4"/><text x="4" y="1.5">(EPT) Fact Repayments Schedule</text></g>
<g id="f4" class="n" transform="translate(627 318)"><circle r="3.4"/><text x="4" y="1.5">Fact Repayments Grouped Schedules</text></g>
<g id="f5" class="n" transform="translate(707 305)"><circle r="3.4"/><text x="4" y="1.5">(EPT) Fact Salary Transactions</text></g>
<g id="f6" class="n" transform="translate(667 315)"><circle r="3.4"/><text x="4" y="1.5">(EPT) Fact Customer Account Ratings</text></g>
<g id="f7" class="n" transform="translate(562 322)"><circle r="3.4"/><text x="4" y="1.5">Fact Other Repayments</text></g>
<g id="f8" class="n" transform="translate(594 324)"><circle r="3.4"/><text x="4" y="1.5">(EPT) Fact Repayments Schedule</text></g>
<g id="f9" class="n" transform="translate(603 329)"><circle r="3.4"/><text x="4" y="1.5">Stage Repayment Schedules</text></g>
<g id="f10" class="n" transform="translate(618 327)"><circle r="3.4"/><text x="4" y="1.5">Fact Repayment Plans</text></g>
<g id="f11" class="n" transform="translate(631 328)"><circle r="3.4"/><text x="4" y="1.5">Fact Repayment Schedule</text></g>
<g id="f12" class="n" transform="translate(640 328)"><circle r="3.4"/><text x="4" y="1.5">(EPT) Fact Repayments Grouped Schedule</text></g>
<g id="f13" class="n" transform="translate(554 330)"><circle r="3.4"/><text x="4" y="1.5">(EPT) Fact Post Repayments</text></g>
<g id="f14" class="n" transform="translate(588 333)"><circle r="3.4"/><text x="4" y="1.5">Fact Post Repayment Schedules</text></g>
<g id="f15" class="n" transform="translate(683 328)"><circle r="3.4"/><text x="4" y="1.5">(EPT) Fact Customer Account Grouped</text></g>
<g id="f16" class="n" transform="translate(740 322)"><circle r="3.4"/><text x="4" y="1.5">Boot Individual Income Schedule</text></g>
<g id="f17" class="n" transform="translate(721 329)"><circle r="3.4"/><text x="4" y="1.5">Fact Income Schedule</text></g>
<g id="f18" class="n" transform="translate(646 338)"><circle r="3.4"/><text x="4" y="1.5">(EPT) Fact Customer Account Ratings</text></g>
<g id="f19" class="n" transform="translate(552 342)"><circle r="3.4"/><text x="4" y="1.5">Fact Insurance</text></g>
<g id="f20" class="n" transform="translate(581 342)"><circle r="3.4"/><text x="4" y="1.5">(EPT) Fact Other Repayments</text></g>
<g id="f21" class="n" transform="translate(657 344)"><circle r="3.4"/><text x="4" y="1.5">(EPT) Fact Customer Account</text></g>
<g id="f22" class="n" transform="translate(676 345)"><circle r="3.4"/><text x="4" y="1.5">Fact Customer Account</text></g>
<g id="f23" class="n" transform="translate(684 349)"><circle r="3.4"/><text x="4" y="1.5">(EPT) Fact Customer Account Grouped</text></g>
<g id="f24" class="n" transform="translate(575 353)"><circle r="3.4"/><text x="4" y="1.5">(EPT) Fact Insurance</text></g>
<g id="f25" class="n" transform="translate(550 361)"><circle r="3.4"/><text x="4" y="1.5">Fact Insurance Arrears Cost</text></g>
<g id="f26" class="n" transform="translate(575 365)"><circle r="3.4"/><text x="4" y="1.5">Fact Insurance</text></g>
<g id="f27" class="n" transform="translate(655 356)"><circle r="3.4"/><text x="4" y="1.5">(EPT) Fact Salary Refinance</text></g>
<g id="f28" class="n" transform="translate(697 359)"><circle r="3.4"/><text x="4" y="1.5">Stage Processor Charges Fee</text></g>
<g id="f29" class="n" transform="translate(665 362)"><circle r="3.4"/><text x="4" y="1.5">(EPT) Salary Finance Processing</text></g>
<g id="f30" class="n" transform="translate(658 370)"><circle r="3.4"/><text x="4" y="1.5">(EPT) Fact Rate Commission</text></g>
<g id="f31" class="n" transform="translate(689 371)"><circle r="3.4"/><text x="4" y="1.5">Fact Account Number Base</text></g>
<g id="f32" class="n" transform="translate(552 380)"><circle r="3.4"/><text x="4" y="1.5">Fact MF Commission Data</text></g>
<g id="f33" class="n" transform="translate(576 376)"><circle r="3.4"/><text x="4" y="1.5">(EPT) Fact MF Commission</text></g>
<g id="f34" class="n" transform="translate(664 380)"><circle r="3.4"/><text x="4" y="1.5">(EPT) Fact Income Tax Repayments</text></g>
<g id="f35" class="n" transform="translate(693 387)"><circle r="3.4"/><text x="4" y="1.5">(EPT) Fact Income Arrears</text></g>
<g id="f36" class="n" transform="translate(708 390)"><circle r="3.4"/><text x="4" y="1.5">(EPT) Fact Customer Transactions</text></g>
<g id="f37" class="n" transform="translate(651 394)"><circle r="3.4"/><text x="4" y="1.5">Fact MF Client Loan Debit</text></g>
<g id="f38" class="n" transform="translate(660 391)"><circle r="3.4"/><text x="4" y="1.5">(EPT) Fact MF Customer Ratings</text></g>
<g id="f39" class="n" transform="translate(580 388)"><circle r="3.4"/><text x="4" y="1.5">(EPT) Fact Aperio Task Payments</text></g>
<g id="f40" class="n" transform="translate(559 400)"><circle r="3.4"/><text x="4" y="1.5">Fact Aperio Task Payments</text></g>
<g id="f41" class="n" transform="translate(742 378)"><circle r="3.4"/><text x="4" y="1.5">Stage Payment Arrangements</text></g>
<g id="f42" class="n" transform="translate(762 368)"><circle r="3.4"/><text x="4" y="1.5">(EPT) 'MMC' Payment Arrangements</text></g>
<g id="f43" class="n" transform="translate(773 358)"><circle r="3.4"/><text x="4" y="1.5">Stage Mr Month Payment Arrangements</text></g>
<g id="f44" class="n" transform="translate(739 397)"><circle r="3.4"/><text x="4" y="1.5">(EPT) Fact Booking Gross</text></g>
<g id="f45" class="n" transform="translate(756 403)"><circle r="3.4"/><text x="4" y="1.5">Fact Booking Gross Data</text></g>
<g id="f46" class="n" transform="translate(733 414)"><circle r="3.4"/><text x="4" y="1.5">Fact Smart Debit Amounts</text></g>
<g id="f47" class="n" transform="translate(746 427)"><circle r="3.4"/><text x="4" y="1.5">Fact Closed Debit Records</text></g>
<g id="f48" class="n" transform="translate(689 403)"><circle r="3.4"/><text x="4" y="1.5">(EPT) Fact MF Customer Ratings</text></g>
<g id="f49" class="n" transform="translate(677 410)"><circle r="3.4"/><text x="4" y="1.5">Fact MF Client Loan Debit</text></g>
<g id="f50" class="n" transform="translate(666 414)"><circle r="3.4"/><text x="4" y="1.5">(EPT) Fact Income Audit</text></g>
<g id="f51" class="n" transform="translate(640 406)"><circle r="3.4"/><text x="4" y="1.5">(EPT) Fact Other Charges</text></g>
<g id="f52" class="n" transform="translate(650 408)"><circle r="3.4"/><text x="4" y="1.5">Fact Fees Bookings</text></g>
<g id="f53" class="n" transform="translate(633 414)"><circle r="3.4"/><text x="4" y="1.5">Fact Other Fees</text></g>
<g id="f54" class="n" transform="translate(619 416)"><circle r="3.4"/><text x="4" y="1.5">Fact Fees</text></g>
<g id="f55" class="n" transform="translate(604 410)"><circle r="3.4"/><text x="4" y="1.5">(EPT) Fact Post Card Data</text></g>
<g id="f56" class="n" transform="translate(577 414)"><circle r="3.4"/><text x="4" y="1.5">(EPT) Fact Post Card</text></g>
<g id="f57" class="n" transform="translate(585 419)"><circle r="3.4"/><text x="4" y="1.5">Fact Arrears Transactions</text></g>
<g id="f58" class="n" transform="translate(558 423)"><circle r="3.4"/><text x="4" y="1.5">Fact Post Card Bal</text></g>
<g id="f59" class="n" transform="translate(589 428)"><circle r="3.4"/><text x="4" y="1.5">Fact Card Customer Transactions</text></g>
<g id="f60" class="n" transform="translate(602 435)"><circle r="3.4"/><text x="4" y="1.5">Fact Smart Debit Bal</text></g>
<g id="f61" class="n" transform="translate(633 431)"><circle r="3.4"/><text x="4" y="1.5">Fact Card Transactions</text></g>
<g id="f62" class="n" transform="translate(658 432)"><circle r="3.4"/><text x="4" y="1.5">(EPT) Fact Payment Arrangement Card</text></g>
<g id="f63" class="n" transform="translate(672 431)"><circle r="3.4"/><text x="4" y="1.5">Fact Payment Arrangement Card</text></g>
<g id="f64" class="n" transform="translate(702 446)"><circle r="3.4"/><text x="4" y="1.5">Fact Income Audit Tasks</text></g>
<g id="f65" class="n" transform="translate(718 461)"><circle r="3.4"/><text x="4" y="1.5">Fact Income Audit - NP</text></g>
<g id="f66" class="n" transform="translate(479 369)"><circle r="3.4"/><text x="4" y="1.5">(EPT) Loan information account status for PD getting initial data</text></g>

<g id="g0" class="n" transform="translate(353 409)"><circle r="3.4"/><text x="4" y="1.5">(SC) Fact Dimensions</text></g>
<g id="g00" class="n" transform="translate(433 408)"><circle r="3.4"/><text x="4" y="1.5">Stage Product Tall Data</text></g>
<g id="g1" class="n" transform="translate(386 385)"><circle r="3.4"/><text x="4" y="1.5">Dimension Account Data</text></g>
<g id="g2" class="n" transform="translate(392 386)"><circle r="3.4"/><text x="4" y="1.5">(EPT) Dimension Account</text></g>
<g id="g3" class="n" transform="translate(399 384)"><circle r="3.4"/><text x="4" y="1.5">Dimension Arrears Data</text></g>
<g id="g4" class="n" transform="translate(401 389)"><circle r="3.4"/><text x="4" y="1.5">Stage Dimension Arrears</text></g>
<g id="g5" class="n" transform="translate(386 393)"><circle r="3.4"/><text x="4" y="1.5">(EPT) Dimension Bank Data</text></g>
<g id="g6" class="n" transform="translate(393 394)"><circle r="3.4"/><text x="4" y="1.5">Dimension Bank</text></g>
<g id="g7" class="n" transform="translate(401 392)"><circle r="3.4"/><text x="4" y="1.5">Stage Dimension Bank</text></g>
<g id="g8" class="n" transform="translate(387 402)"><circle r="3.4"/><text x="4" y="1.5">Dimension Branch</text></g>
<g id="g9" class="n" transform="translate(395 402)"><circle r="3.4"/><text x="4" y="1.5">(EPT) Dimension Branch Data</text></g>
<g id="g10" class="n" transform="translate(401 400)"><circle r="3.4"/><text x="4" y="1.5">Stage Dimension Branch</text></g>
<g id="g11" class="n" transform="translate(390 407)"><circle r="3.4"/><text x="4" y="1.5">Dimension Card Type</text></g>
<g id="g12" class="n" transform="translate(397 407)"><circle r="3.4"/><text x="4" y="1.5">(EPT) Dimension Card Type</text></g>
<g id="g13" class="n" transform="translate(386 416)"><circle r="3.4"/><text x="4" y="1.5">Dimension Channel</text></g>
<g id="g14" class="n" transform="translate(392 415)"><circle r="3.4"/><text x="4" y="1.5">(EPT) Dimension Channel Data</text></g>
<g id="g15" class="n" transform="translate(400 416)"><circle r="3.4"/><text x="4" y="1.5">Stage Dimension Channel</text></g>
<g id="g16" class="n" transform="translate(387 423)"><circle r="3.4"/><text x="4" y="1.5">Dimension Currency</text></g>
<g id="g17" class="n" transform="translate(394 423)"><circle r="3.4"/><text x="4" y="1.5">(EPT) Dimension Currency</text></g>
<g id="g18" class="n" transform="translate(402 423)"><circle r="3.4"/><text x="4" y="1.5">Stage Dimension Currency</text></g>
<g id="g19" class="n" transform="translate(385 432)"><circle r="3.4"/><text x="4" y="1.5">Dimension Date</text></g>
<g id="g20" class="n" transform="translate(391 431)"><circle r="3.4"/><text x="4" y="1.5">(EPT) Dimension Date Data</text></g>
<g id="g21" class="n" transform="translate(397 430)"><circle r="3.4"/><text x="4" y="1.5">Stage Dimension Date</text></g>
<g id="g22" class="n" transform="translate(402 430)"><circle r="3.4"/><text x="4" y="1.5">Dimension Region</text></g>
<g id="g23" class="n" transform="translate(392 439)"><circle r="3.4"/><text x="4" y="1.5">(EPT) Dimension Region</text></g>
<g id="g24" class="n" transform="translate(399 439)"><circle r="3.4"/><text x="4" y="1.5">Stage Dimension Region Data</text></g>
<g id="g25" class="n" transform="translate(392 362)"><circle r="3.4"/><text x="4" y="1.5">(EPT) Fact Card Transaction Source</text></g>
<g id="g26" class="n" transform="translate(384 371)"><circle r="3.4"/><text x="4" y="1.5">(EPT) Fact Card Transaction</text></g>
<g id="g27" class="n" transform="translate(401 370)"><circle r="3.4"/><text x="4" y="1.5">Stage Card Transaction</text></g>
<g id="g28" class="n" transform="translate(357 375)"><circle r="3.4"/><text x="4" y="1.5">(EPT) Fact Loan Rate Application</text></g>
<g id="g29" class="n" transform="translate(306 386)"><circle r="3.4"/><text x="4" y="1.5">Fact Aperio Dimension</text></g>
<g id="g30" class="n" transform="translate(331 385)"><circle r="3.4"/><text x="4" y="1.5">(EPT) Fact Sales Order</text></g>
<g id="g31" class="n" transform="translate(325 392)"><circle r="3.4"/><text x="4" y="1.5">Fact Finance Dimension</text></g>
<g id="g32" class="n" transform="translate(319 403)"><circle r="3.4"/><text x="4" y="1.5">(EPT) Dimension Risk</text></g>
<g id="g33" class="n" transform="translate(325 401)"><circle r="3.4"/><text x="4" y="1.5">(EPT) Dimension Risk Data</text></g>
<g id="g34" class="n" transform="translate(319 413)"><circle r="3.4"/><text x="4" y="1.5">Fact Product Dimension</text></g>
<g id="g35" class="n" transform="translate(326 415)"><circle r="3.4"/><text x="4" y="1.5">(EPT) Dimension Product</text></g>
<g id="g36" class="n" transform="translate(323 422)"><circle r="3.4"/><text x="4" y="1.5">Dimension Loan</text></g>
<g id="g37" class="n" transform="translate(328 428)"><circle r="3.4"/><text x="4" y="1.5">Dimension Stage Table</text></g>
<g id="g38" class="n" transform="translate(300 375)"><circle r="3.4"/><text x="4" y="1.5">(EPT) Dimension Schedule</text></g>
<g id="g39" class="n" transform="translate(454 382)"><circle r="3.4"/><text x="4" y="1.5">Dimension Staging Table</text></g>
<g id="g40" class="n" transform="translate(459 388)"><circle r="3.4"/><text x="4" y="1.5">Dimension Staging</text></g>
<g id="g41" class="n" transform="translate(466 394)"><circle r="3.4"/><text x="4" y="1.5">(EPT) Arrange Enrollment</text></g>
<g id="g42" class="n" transform="translate(461 399)"><circle r="3.4"/><text x="4" y="1.5">(EPT) Audit Staging Table</text></g>
<g id="g43" class="n" transform="translate(468 405)"><circle r="3.4"/><text x="4" y="1.5">(EPT) Audit Staging Data</text></g>
<g id="g44" class="n" transform="translate(466 413)"><circle r="3.4"/><text x="4" y="1.5">Stage Pay Staging</text></g>
<g id="g45" class="n" transform="translate(468 417)"><circle r="3.4"/><text x="4" y="1.5">Stage Loan Dimension</text></g>
<g id="g46" class="n" transform="translate(463 424)"><circle r="3.4"/><text x="4" y="1.5">Fact Staging/Time Staging</text></g>
<g id="g47" class="n" transform="translate(452 428)"><circle r="3.4"/><text x="4" y="1.5">(EPT) Staging Data</text></g>
<g id="g48" class="n" transform="translate(370 454)"><circle r="3.4"/><text x="4" y="1.5">Staging</text></g>
<g id="g49" class="n" transform="translate(328 459)"><circle r="3.4"/><text x="4" y="1.5">Fact System Accounting</text></g>
<g id="g50" class="n" transform="translate(363 479)"><circle r="3.4"/><text x="4" y="1.5">Fact Report Processing</text></g>

<g id="m1" class="n" transform="translate(268 329)"><circle r="3.4"/><text x="4" y="1.5">(EPT) Stage MSC Transfer Order Status</text></g>
<g id="m2" class="n" transform="translate(318 330)"><circle r="3.4"/><text x="4" y="1.5">(EPT) MSC lookups to Stage to get those previous collections</text></g>
<g id="m3" class="n" transform="translate(299 342)"><circle r="3.4"/><text x="4" y="1.5">Stage Fact Dimension</text></g>
<g id="m4" class="n" transform="translate(321 345)"><circle r="3.4"/><text x="4" y="1.5">(EPT) Fact Dimension Reference</text></g>
<g id="m5" class="n" transform="translate(432 338)"><circle r="3.4"/><text x="4" y="1.5">(EPT) Aperio Dimension Viewer</text></g>

<g id="h0" class="n" transform="translate(191 454)"><circle r="3.4"/><text x="4" y="1.5">(EPT) Stage Fact Process Data</text></g>
<g id="h1" class="n" transform="translate(179 379)"><circle r="3.4"/><text x="4" y="1.5">Stage MF Flag - CIV</text></g>
<g id="h2" class="n" transform="translate(144 391)"><circle r="3.4"/><text x="4" y="1.5">Stage Fast Process Flexibility Std</text></g>
<g id="h3" class="n" transform="translate(224 390)"><circle r="3.4"/><text x="4" y="1.5">(EPT) Stage OSC Transfer Order Status</text></g>
<g id="h4" class="n" transform="translate(238 396)"><circle r="3.4"/><text x="4" y="1.5">Stage MNIC lookups</text></g>
<g id="h5" class="n" transform="translate(185 405)"><circle r="3.4"/><text x="4" y="1.5">(EPT) Stage MF Flag - CIV</text></g>
<g id="h6" class="n" transform="translate(122 413)"><circle r="3.4"/><text x="4" y="1.5">Stage Fast Process Flag Eligibility Trans</text></g>
<g id="h7" class="n" transform="translate(165 409)"><circle r="3.4"/><text x="4" y="1.5">(EPT) Stage Fast Process Flag Eligibility</text></g>
<g id="h8" class="n" transform="translate(158 414)"><circle r="3.4"/><text x="4" y="1.5">Stage Fast Process Flag Eligibility Std</text></g>
<g id="h9" class="n" transform="translate(147 423)"><circle r="3.4"/><text x="4" y="1.5">(EPT) Stage/Fast Process Flag Eligibility</text></g>
<g id="h10" class="n" transform="translate(143 430)"><circle r="3.4"/><text x="4" y="1.5">(EPT) Stage Fast Process Flag Eligibility Std</text></g>
<g id="h11" class="n" transform="translate(177 422)"><circle r="3.4"/><text x="4" y="1.5">Stage Fast Process Flag Eligibility</text></g>
<g id="h12" class="n" transform="translate(183 420)"><circle r="3.4"/><text x="4" y="1.5">Stage OSC Process Flags</text></g>
<g id="h13" class="n" transform="translate(197 419)"><circle r="3.4"/><text x="4" y="1.5">Stage OSC Flags</text></g>
<g id="h14" class="n" transform="translate(202 421)"><circle r="3.4"/><text x="4" y="1.5">(EPT) Stage OSC Flags</text></g>
<g id="h15" class="n" transform="translate(220 417)"><circle r="3.4"/><text x="4" y="1.5">(EPT) Stage MNIC Lookups</text></g>
<g id="h16" class="n" transform="translate(159 438)"><circle r="3.4"/><text x="4" y="1.5">Stage Loan Account Rental</text></g>
<g id="h17" class="n" transform="translate(157 444)"><circle r="3.4"/><text x="4" y="1.5">(EPT) Stage Loan Account Rentals</text></g>
<g id="h18" class="n" transform="translate(139 445)"><circle r="3.4"/><text x="4" y="1.5">Stage Fast Process Flag Eligibility Std2</text></g>
<g id="h19" class="n" transform="translate(139 453)"><circle r="3.4"/><text x="4" y="1.5">(EPT) Stage Fast Process Flag Eligibility Trans</text></g>
<g id="h20" class="n" transform="translate(219 440)"><circle r="3.4"/><text x="4" y="1.5">(EPT) Stage CLF/Account Interface Comms</text></g>
<g id="h21" class="n" transform="translate(222 445)"><circle r="3.4"/><text x="4" y="1.5">Stage OSC Account Interface Comms</text></g>
<g id="h22" class="n" transform="translate(223 458)"><circle r="3.4"/><text x="4" y="1.5">Stage MF Account Payment Plan</text></g>
<g id="h23" class="n" transform="translate(224 463)"><circle r="3.4"/><text x="4" y="1.5">(EPT) Stage MF Account Payment Plan</text></g>
<g id="h24" class="n" transform="translate(141 467)"><circle r="3.4"/><text x="4" y="1.5">(EPT) Stage Loan Security</text></g>
<g id="h25" class="n" transform="translate(159 469)"><circle r="3.4"/><text x="4" y="1.5">Stage OSC Customer Relationships Email</text></g>
<g id="h26" class="n" transform="translate(163 474)"><circle r="3.4"/><text x="4" y="1.5">Stage OSC Customer Relationships Email Cust</text></g>
<g id="h27" class="n" transform="translate(143 475)"><circle r="3.4"/><text x="4" y="1.5">Stage Loan Application</text></g>
<g id="h28" class="n" transform="translate(214 478)"><circle r="3.4"/><text x="4" y="1.5">Stage Dimension Ci Account</text></g>
<g id="h29" class="n" transform="translate(218 474)"><circle r="3.4"/><text x="4" y="1.5">(EPT) Dimension Ci Account</text></g>
<g id="h30" class="n" transform="translate(152 489)"><circle r="3.4"/><text x="4" y="1.5">Stage OSC DOEC Offer for Pay PDF</text></g>
<g id="h31" class="n" transform="translate(158 493)"><circle r="3.4"/><text x="4" y="1.5">(EPT) Stage OSC DOEC Offer for Pay</text></g>
<g id="h32" class="n" transform="translate(176 493)"><circle r="3.4"/><text x="4" y="1.5">Stage OSC DOEC Offer</text></g>
<g id="h33" class="n" transform="translate(219 494)"><circle r="3.4"/><text x="4" y="1.5">(EPT) Stage/Fast Process Flag Eligibility Std</text></g>
<g id="h34" class="n" transform="translate(212 498)"><circle r="3.4"/><text x="4" y="1.5">Stage Fast Process Flag Eligibility Std</text></g>
<g id="h35" class="n" transform="translate(164 505)"><circle r="3.4"/><text x="4" y="1.5">(EPT) Stage Process Flag Eligibility</text></g>
<g id="h36" class="n" transform="translate(179 507)"><circle r="3.4"/><text x="4" y="1.5">Stage Loan OSC Process Flag Eligibility</text></g>
<g id="h37" class="n" transform="translate(186 509)"><circle r="3.4"/><text x="4" y="1.5">Stage OSC Process Flag Eligibility Trust</text></g>
<g id="h38" class="n" transform="translate(195 503)"><circle r="3.4"/><text x="4" y="1.5">(EPT) Stage OSC Process Flag Eligibility</text></g>
<g id="h39" class="n" transform="translate(201 507)"><circle r="3.4"/><text x="4" y="1.5">Stage Fast Process Flag Eligibility Trust Trans</text></g>
<g id="h40" class="n" transform="translate(137 512)"><circle r="3.4"/><text x="4" y="1.5">Stage OSC Process Flag Eligibility Summary</text></g>
<g id="h41" class="n" transform="translate(226 520)"><circle r="3.4"/><text x="4" y="1.5">Stage Fast Process Flag Eligibility Std</text></g>
<g id="h42" class="n" transform="translate(153 531)"><circle r="3.4"/><text x="4" y="1.5">Stage Payment Schedules</text></g>
<g id="h43" class="n" transform="translate(201 533)"><circle r="3.4"/><text x="4" y="1.5">(EPT) Stage Fast Process Flag Eligibility Trust Cust</text></g>
<g id="h44" class="n" transform="translate(178 537)"><circle r="3.4"/><text x="4" y="1.5">Stage Fast Process Flag Eligibility</text></g>
<g id="h45" class="n" transform="translate(112 449)"><circle r="3.4"/><text x="4" y="1.5">Stage Fast Process Flag Eligibility Cust</text></g>
<g id="h46" class="n" transform="translate(106 473)"><circle r="3.4"/><text x="4" y="1.5">Stage Special Identities</text></g>

<g id="p1" class="n" transform="translate(306 500)"><circle r="3.4"/><text x="4" y="1.5">Stage Fact Processing</text></g>
<g id="p2" class="n" transform="translate(330 500)"><circle r="3.4"/><text x="4" y="1.5">Fact Loan Disputes</text></g>
<g id="p3" class="n" transform="translate(343 509)"><circle r="3.4"/><text x="4" y="1.5">Fact System Accounting Data</text></g>
<g id="p4" class="n" transform="translate(358 511)"><circle r="3.4"/><text x="4" y="1.5">Dimension Product Type</text></g>
<g id="p5" class="n" transform="translate(318 520)"><circle r="3.4"/><text x="4" y="1.5">(EPT) Fact Processing Data</text></g>

<g id="bl1" class="n" transform="translate(247 568)"><circle r="3.4"/><text x="4" y="1.5">(EPT) Fact Stage Market Explorer Staging Tables</text></g>
<g id="bl2" class="n" transform="translate(261 573)"><circle r="3.4"/><text x="4" y="1.5">Stage Refinancial Rate</text></g>
<g id="bl3" class="n" transform="translate(243 579)"><circle r="3.4"/><text x="4" y="1.5">(EPT) Charge Renewal into Market Explorer Staging Tables</text></g>
<g id="bl4" class="n" transform="translate(273 579)"><circle r="3.4"/><text x="4" y="1.5">(EPT) Fact Renewal into Staging tables</text></g>
<g id="bl5" class="n" transform="translate(246 588)"><circle r="3.4"/><text x="4" y="1.5">(SC) Renewal from Cube and Load into Staging tables</text></g>
<g id="bl6" class="n" transform="translate(267 591)"><circle r="3.4"/><text x="4" y="1.5">Stage Fixed Process Tables</text></g>
<g id="bl7" class="n" transform="translate(259 593)"><circle r="3.4"/><text x="4" y="1.5">(EPT) Load into Fixed Process tables</text></g>
<g id="bl8" class="n" transform="translate(246 605)"><circle r="3.4"/><text x="4" y="1.5">(SC) Controls for Refresh from Cube and Load into Staging tables</text></g>
<g id="bl9" class="n" transform="translate(238 622)"><circle r="3.4"/><text x="4" y="1.5">(SC) Refresh from Cube and Load into Staging tables</text></g>

<g id="i0" class="n" transform="translate(357 600)"><circle r="3.4"/><text x="4" y="1.5">(EPT) Dimension Account Date</text></g>
<g id="i1" class="n" transform="translate(348 584)"><circle r="3.4"/><text x="4" y="1.5">Dimension Audit Inventory</text></g>
<g id="i2" class="n" transform="translate(360 584)"><circle r="3.4"/><text x="4" y="1.5">(EPT) Dimension Payment Schedule Period</text></g>
<g id="i3" class="n" transform="translate(339 588)"><circle r="3.4"/><text x="4" y="1.5">(EPT) Dimension Card Sourcing</text></g>
<g id="i4" class="n" transform="translate(334 593)"><circle r="3.4"/><text x="4" y="1.5">Dimension Loan Arrangement Scheduling</text></g>
<g id="i5" class="n" transform="translate(330 602)"><circle r="3.4"/><text x="4" y="1.5">(EPT) Dimension Audit Status</text></g>
<g id="i6" class="n" transform="translate(337 606)"><circle r="3.4"/><text x="4" y="1.5">Dimension Loan Status</text></g>
<g id="i7" class="n" transform="translate(374 601)"><circle r="3.4"/><text x="4" y="1.5">(EPT) Dimension Card Interest</text></g>
<g id="i8" class="n" transform="translate(333 614)"><circle r="3.4"/><text x="4" y="1.5">Dimension Loan Transaction</text></g>
<g id="i9" class="n" transform="translate(373 612)"><circle r="3.4"/><text x="4" y="1.5">(EPT) Dimension CMC Outbound Request Status</text></g>
<g id="i10" class="n" transform="translate(341 622)"><circle r="3.4"/><text x="4" y="1.5">Dimension Aperio Task</text></g>
<g id="i11" class="n" transform="translate(357 621)"><circle r="3.4"/><text x="4" y="1.5">(EPT) Dimension Call Interest Status</text></g>
<g id="i12" class="n" transform="translate(369 620)"><circle r="3.4"/><text x="4" y="1.5">Dimension Call Interest</text></g>
<g id="i13" class="n" transform="translate(351 627)"><circle r="3.4"/><text x="4" y="1.5">Dimension Schedule Status</text></g>
<g id="i14" class="n" transform="translate(363 627)"><circle r="3.4"/><text x="4" y="1.5">(EPT) Dimension Bulk Interest Status</text></g>
<g id="i15" class="n" transform="translate(323 631)"><circle r="3.4"/><text x="4" y="1.5">Dimension Aperio Task Type</text></g>
<g id="i16" class="n" transform="translate(342 642)"><circle r="3.4"/><text x="4" y="1.5">(EPT) Dimension Reason</text></g>
<g id="i17" class="n" transform="translate(306 646)"><circle r="3.4"/><text x="4" y="1.5">(SC) Agents</text></g>
<g id="i18" class="n" transform="translate(333 664)"><circle r="3.4"/><text x="4" y="1.5">Dimension Reason</text></g>

<g id="n1" class="n" transform="translate(462 493)"><circle r="3.4"/><text x="4" y="1.5">Dimension Audit Segments</text></g>
<g id="n2" class="n" transform="translate(459 498)"><circle r="3.4"/><text x="4" y="1.5">Fact Card Discount</text></g>
<g id="n3" class="n" transform="translate(482 495)"><circle r="3.4"/><text x="4" y="1.5">Stage Loan Approach Definitions</text></g>
<g id="n4" class="n" transform="translate(445 518)"><circle r="3.4"/><text x="4" y="1.5">Dimension Customer</text></g>
<g id="n5" class="n" transform="translate(462 514)"><circle r="3.4"/><text x="4" y="1.5">(EPT) Dimension Processing</text></g>
<g id="n6" class="n" transform="translate(492 537)"><circle r="3.4"/><text x="4" y="1.5">(EPT) - Account User Portfolio Rights</text></g>

<g id="k0" class="n" transform="translate(435 566)"><circle r="3.4"/><text x="4" y="1.5">Dimension Processing</text></g>
<g id="k1" class="n" transform="translate(442 543)"><circle r="3.4"/><text x="4" y="1.5">Dimension Customer</text></g>
<g id="k2" class="n" transform="translate(451 546)"><circle r="3.4"/><text x="4" y="1.5">(EPT) Dimension Customer Account</text></g>
<g id="k3" class="n" transform="translate(469 540)"><circle r="3.4"/><text x="4" y="1.5">Stage Dimension Account</text></g>
<g id="k4" class="n" transform="translate(487 553)"><circle r="3.4"/><text x="4" y="1.5">Dimension Container I</text></g>
<g id="k5" class="n" transform="translate(493 545)"><circle r="3.4"/><text x="4" y="1.5">Stage ROIC Ideas Acct Insertion Cross Ref Stage</text></g>
<g id="k6" class="n" transform="translate(474 557)"><circle r="3.4"/><text x="4" y="1.5">(EPT) Dimension Portfolio</text></g>
<g id="k7" class="n" transform="translate(482 567)"><circle r="3.4"/><text x="4" y="1.5">(EPT) Dimension Container</text></g>
<g id="k8" class="n" transform="translate(506 571)"><circle r="3.4"/><text x="4" y="1.5">Fact Data Container</text></g>
<g id="k9" class="n" transform="translate(494 585)"><circle r="3.4"/><text x="4" y="1.5">Stage Market Explorer Customer Tables</text></g>
<g id="k10" class="n" transform="translate(503 579)"><circle r="3.4"/><text x="4" y="1.5">(SC) Data Container</text></g>
<g id="k11" class="n" transform="translate(420 574)"><circle r="3.4"/><text x="4" y="1.5">Dimension MF Account Flag Type</text></g>
<g id="k12" class="n" transform="translate(435 583)"><circle r="3.4"/><text x="4" y="1.5">Dimension MF Customer Flag Type</text></g>
<g id="k13" class="n" transform="translate(424 594)"><circle r="3.4"/><text x="4" y="1.5">(EPT) Dimension Loan Account Historical Notes</text></g>
<g id="k14" class="n" transform="translate(449 595)"><circle r="3.4"/><text x="4" y="1.5">(EPT) Dimension Loan contracted payment</text></g>
<g id="k15" class="n" transform="translate(418 611)"><circle r="3.4"/><text x="4" y="1.5">Dimension Loan Account Historical Notes</text></g>
<g id="k16" class="n" transform="translate(459 613)"><circle r="3.4"/><text x="4" y="1.5">Dimension Arrears Payment Schedule</text></g>
<g id="k17" class="n" transform="translate(396 561)"><circle r="3.4"/><text x="4" y="1.5">(EPT) Dimension Customer Payment Reference Data</text></g>

<g id="l0" class="n" transform="translate(437 653)"><circle r="3.4"/><text x="4" y="1.5">(EPT) Dimension Payment Match</text></g>
<g id="l1" class="n" transform="translate(441 640)"><circle r="3.4"/><text x="4" y="1.5">Dimension POS</text></g>
<g id="l2" class="n" transform="translate(419 650)"><circle r="3.4"/><text x="4" y="1.5">Dimension Payment Source Data</text></g>
<g id="l3" class="n" transform="translate(455 650)"><circle r="3.4"/><text x="4" y="1.5">(EPT) Dimension Payment Match Type</text></g>
<g id="l4" class="n" transform="translate(417 661)"><circle r="3.4"/><text x="4" y="1.5">Dimension Payment Source</text></g>
<g id="l5" class="n" transform="translate(456 659)"><circle r="3.4"/><text x="4" y="1.5">(EPT) Dimension Condition OSC</text></g>
<g id="l6" class="n" transform="translate(421 668)"><circle r="3.4"/><text x="4" y="1.5">Dimension Condition</text></g>
<g id="l7" class="n" transform="translate(447 670)"><circle r="3.4"/><text x="4" y="1.5">Dimension Condition Status</text></g>
<g id="l8" class="n" transform="translate(456 668)"><circle r="3.4"/><text x="4" y="1.5">(EPT) Dimension Condition Status</text></g>
<g id="l9" class="n" transform="translate(425 675)"><circle r="3.4"/><text x="4" y="1.5">Dimension Product</text></g>
<g id="l10" class="n" transform="translate(434 674)"><circle r="3.4"/><text x="4" y="1.5">Dimension Schedule</text></g>
<g id="l11" class="n" transform="translate(443 677)"><circle r="3.4"/><text x="4" y="1.5">(EPT) Dimension Schedule Type</text></g>

<g id="q0" class="n" transform="translate(517 621)"><circle r="3.4"/><text x="4" y="1.5">Dimension Counterparty</text></g>
<g id="q1" class="n" transform="translate(527 608)"><circle r="3.4"/><text x="4" y="1.5">Dimension Coaches</text></g>
<g id="q2" class="n" transform="translate(536 612)"><circle r="3.4"/><text x="4" y="1.5">Dimension Post Office Branch</text></g>
<g id="q3" class="n" transform="translate(540 620)"><circle r="3.4"/><text x="4" y="1.5">Dimension MF Audit Type</text></g>
<g id="q4" class="n" transform="translate(505 631)"><circle r="3.4"/><text x="4" y="1.5">Dimension Loan Rental</text></g>
<g id="q5" class="n" transform="translate(538 631)"><circle r="3.4"/><text x="4" y="1.5">(EPT) Dimension Payment</text></g>
<g id="q6" class="n" transform="translate(555 631)"><circle r="3.4"/><text x="4" y="1.5">(EPT) Dimension Payment Frequency</text></g>
<g id="q7" class="n" transform="translate(575 635)"><circle r="3.4"/><text x="4" y="1.5">(EPT) Payment Frequencies</text></g>
<g id="q8" class="n" transform="translate(512 640)"><circle r="3.4"/><text x="4" y="1.5">Dimension Card</text></g>
<g id="q9" class="n" transform="translate(526 639)"><circle r="3.4"/><text x="4" y="1.5">Dimension Payment Cost</text></g>
<g id="q10" class="n" transform="translate(534 640)"><circle r="3.4"/><text x="4" y="1.5">Dimension Rental Cost</text></g>
<g id="q11" class="n" transform="translate(521 644)"><circle r="3.4"/><text x="4" y="1.5">Dimension Other Repayments Type</text></g>

<g id="j0" class="n" transform="translate(537 483)"><circle r="3.4"/><text x="4" y="1.5">Fact Processing</text></g>
<g id="j1" class="n" transform="translate(503 479)"><circle r="3.4"/><text x="4" y="1.5">Fact Bankruptcy File</text></g>
<g id="j2" class="n" transform="translate(551 455)"><circle r="3.4"/><text x="4" y="1.5">Fact Post Sale Back Office</text></g>
<g id="j3" class="n" transform="translate(559 461)"><circle r="3.4"/><text x="4" y="1.5">(EPT) Fact Card Chargeback</text></g>
<g id="j4" class="n" transform="translate(566 474)"><circle r="3.4"/><text x="4" y="1.5">Fact Card Customer Transactions</text></g>
<g id="j5" class="n" transform="translate(572 491)"><circle r="3.4"/><text x="4" y="1.5">Fact Post Card Transactions</text></g>
<g id="j6" class="n" transform="translate(597 492)"><circle r="3.4"/><text x="4" y="1.5">(EPT) Fact Card Transactions</text></g>
<g id="j7" class="n" transform="translate(566 502)"><circle r="3.4"/><text x="4" y="1.5">Fact Card Transactions</text></g>
<g id="j8" class="n" transform="translate(604 501)"><circle r="3.4"/><text x="4" y="1.5">(EPT) Fact Card Transactions Authorisations</text></g>
<g id="j9" class="n" transform="translate(577 515)"><circle r="3.4"/><text x="4" y="1.5">Fact Card Transactions Authorisations</text></g>
<g id="j10" class="n" transform="translate(575 522)"><circle r="3.4"/><text x="4" y="1.5">Fact Card Release</text></g>
<g id="j11" class="n" transform="translate(591 533)"><circle r="3.4"/><text x="4" y="1.5">Stage Post Entry Card Authorisation File</text></g>
<g id="j12" class="n" transform="translate(583 553)"><circle r="3.4"/><text x="4" y="1.5">(EPT) Fact Card ROS Release Report</text></g>
<g id="j13" class="n" transform="translate(589 552)"><circle r="3.4"/><text x="4" y="1.5">Fact Card ROS Release Report</text></g>
<g id="j14" class="n" transform="translate(610 457)"><circle r="3.4"/><text x="4" y="1.5">(EPT) Fact Card Transactions</text></g>
<g id="j15" class="n" transform="translate(597 451)"><circle r="3.4"/><text x="4" y="1.5">(EPT) Fact Card Release</text></g>

<g id="ap1" class="n" transform="translate(647 473)"><circle r="3.4"/><text x="4" y="1.5">Fact Payment Arrangement Monthly Transactions</text></g>
<g id="ap2" class="n" transform="translate(649 493)"><circle r="3.4"/><text x="4" y="1.5">Fact Payment Arrangement Transactions</text></g>
<g id="ap3" class="n" transform="translate(693 498)"><circle r="3.4"/><text x="4" y="1.5">(EPT) Fact Aperio Tasks Fraud Review</text></g>
<g id="ap4" class="n" transform="translate(711 507)"><circle r="3.4"/><text x="4" y="1.5">Fact Aperio Tasks Fraud Review</text></g>
<g id="ap5" class="n" transform="translate(687 512)"><circle r="3.4"/><text x="4" y="1.5">(EPT) Fact Customer Engagement</text></g>
<g id="ap6" class="n" transform="translate(677 521)"><circle r="3.4"/><text x="4" y="1.5">(EPT) Fact Aperio Task History</text></g>
<g id="ap7" class="n" transform="translate(655 523)"><circle r="3.4"/><text x="4" y="1.5">(EPT) Fact Aperio Tasks</text></g>
<g id="ap8" class="n" transform="translate(666 526)"><circle r="3.4"/><text x="4" y="1.5">(EPT) Fact Aperio Task Instance</text></g>
<g id="ap9" class="n" transform="translate(699 529)"><circle r="3.4"/><text x="4" y="1.5">Fact Customer Engagement</text></g>
<g id="ap10" class="n" transform="translate(649 546)"><circle r="3.4"/><text x="4" y="1.5">Fact Aperio Tasks</text></g>
<g id="ap11" class="n" transform="translate(666 549)"><circle r="3.4"/><text x="4" y="1.5">Fact Aperio Task Instance</text></g>
<g id="ap12" class="n" transform="translate(683 543)"><circle r="3.4"/><text x="4" y="1.5">Fact Aperio Task History</text></g>
<g id="ap0" class="n" transform="translate(665 488)"><circle r="3.4" stroke="#d9534f" stroke-width="1"/><text x="4.5" y="1.5">(SC) Aperio Data</text></g>
</g>
</svg>
